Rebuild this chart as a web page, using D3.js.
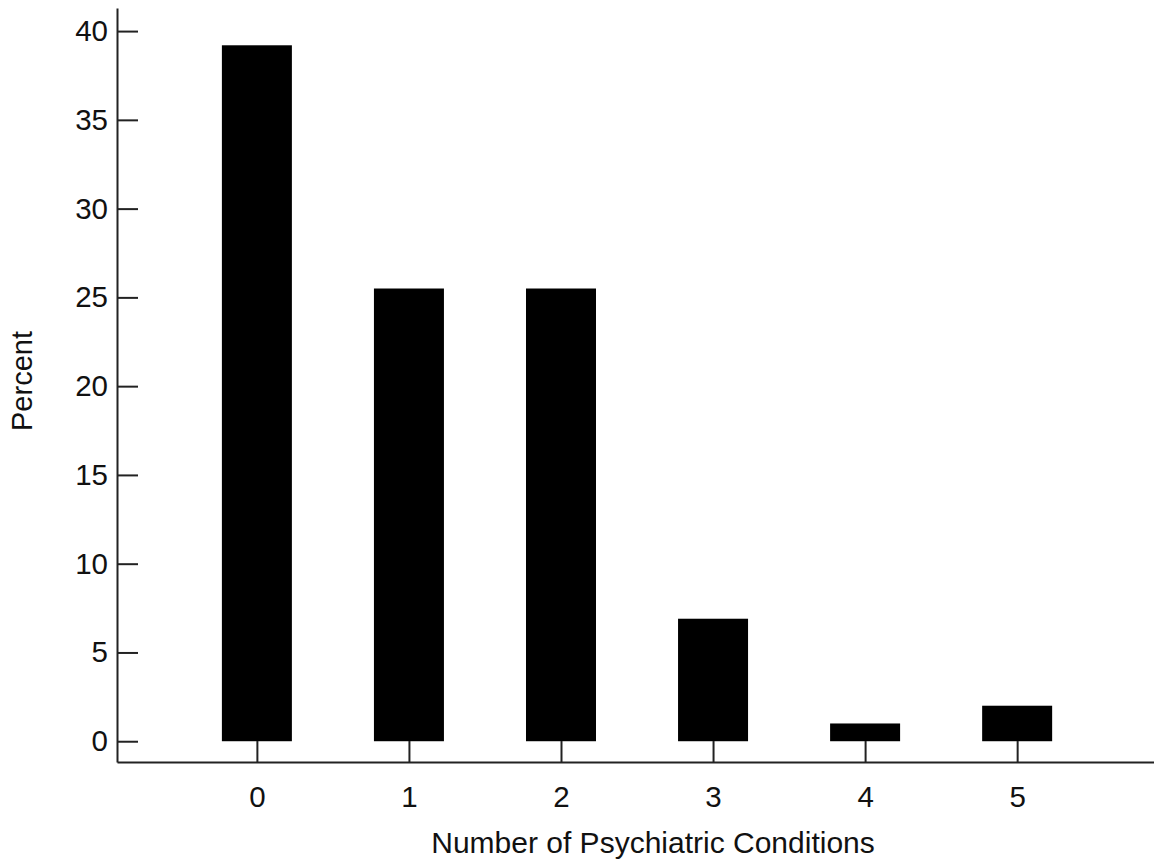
<!DOCTYPE html>
<html>
<head>
<meta charset="utf-8">
<script src="https://cdn.jsdelivr.net/npm/d3@7"></script>
<style>
  body { margin: 0; background: #fff; }
  text { font-family: "Liberation Sans", Arial, sans-serif; }
</style>
</head>
<body>
<svg id="chart"></svg>
<script>
let width = 1154;
let height = 859;

let conditions = [0, 1, 2, 3, 4, 5];
let percents = [39.2, 25.5, 25.5, 6.9, 1.0, 2.0];
let yTicks = [0, 5, 10, 15, 20, 25, 30, 35, 40];

let svg = d3.select("#chart")
    .attr("width", width)
    .attr("height", height);

let x = d3.scaleLinear()
    .domain([-0.92, 5.9])
    .range([117, 1154]);

let y = d3.scaleLinear()
    .domain([-1.17, 41.3])
    .range([762, 8]);

let barWidth = 70;

svg.selectAll("rect.bar")
    .data(conditions)
    .enter().append("rect")
    .attr("class", "bar")
    .attr("x", (d) => x(d) - barWidth / 2)
    .attr("y", (d, i) => y(percents[i]))
    .attr("width", barWidth)
    .attr("height", (d, i) => y(0) - y(percents[i]))
    .style("fill", "#000");

// y axis, ticks point inward
let yAxis = d3.axisLeft(y)
    .tickValues(yTicks)
    .tickFormat(d3.format("d"))
    .tickSize(-21)
    .tickPadding(9)
    .tickSizeOuter(0);

let gy = svg.append("g")
    .attr("transform", "translate(117,0)")
    .call(yAxis);

// x axis, ticks point up to the bars
let xAxis = d3.axisBottom(x)
    .tickValues(conditions)
    .tickFormat(d3.format("d"))
    .tickSize(-21)
    .tickPadding(24)
    .tickSizeOuter(0);

let gx = svg.append("g")
    .attr("transform", "translate(0,762)")
    .call(xAxis);

[gx, gy].forEach(function(g) {
    g.attr("font-size", 29.5).attr("font-family", "Liberation Sans, Arial, sans-serif");
    g.select(".domain").attr("stroke", "#222").attr("stroke-width", 2);
    g.selectAll(".tick line").attr("stroke", "#222").attr("stroke-width", 2);
    g.selectAll(".tick text").attr("fill", "#111");
});

svg.append("text")
    .attr("transform", "translate(32,381) rotate(-90)")
    .attr("text-anchor", "middle")
    .attr("font-size", 29)
    .attr("fill", "#111")
    .text("Percent");

svg.append("text")
    .attr("x", 653)
    .attr("y", 853)
    .attr("text-anchor", "middle")
    .attr("font-size", 30)
    .attr("fill", "#111")
    .text("Number of Psychiatric Conditions");
</script>
</body>
</html>
